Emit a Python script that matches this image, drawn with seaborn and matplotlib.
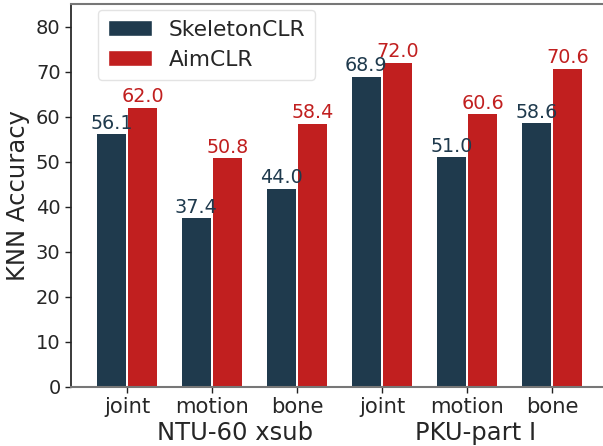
import pandas as pd
import matplotlib.pyplot as plt
import matplotlib.transforms as mtransforms
from matplotlib.patches import Patch
import seaborn as sns

# data
categories = ['joint', 'motion', 'bone', 'joint ', 'motion ', 'bone ']
tick_labels = ['joint', 'motion', 'bone', 'joint', 'motion', 'bone']
skeletonclr = [56.1, 37.4, 44.0, 68.9, 51.0, 58.6]
aimclr = [62.0, 50.8, 58.4, 72.0, 60.6, 70.6]
methods = ['SkeletonCLR', 'AimCLR']
groups = ['NTU-60 xsub', 'PKU-part I']

DARK = '#1f3a4d'
RED = '#c11f1f'

df = pd.DataFrame({
    'cat': categories * 2,
    'acc': skeletonclr + aimclr,
    'method': [methods[0]] * 6 + [methods[1]] * 6,
})

sns.set_theme(style='white')
plt.rcParams['font.family'] = ['DejaVu Sans']

fig = plt.figure(figsize=(6.03, 4.46), dpi=100)
ax = fig.add_axes([71 / 603, 59 / 446, 532 / 603, 383 / 446])

sns.barplot(data=df, x='cat', y='acc', hue='method', order=categories,
            palette={methods[0]: DARK, methods[1]: RED},
            width=0.74, gap=0.08, saturation=1, errorbar=None,
            linewidth=0, legend=False, ax=ax)

# value labels above each bar
for cont, col in zip(ax.containers, [DARK, RED]):
    ax.bar_label(cont, fmt='%.1f', color=col, fontsize=13.8, padding=1)

ax.set_xlim(-0.66, 5.6)
ax.set_ylim(0, 85)
ax.set_yticks(range(0, 81, 10))
ax.set_xticks(range(6))
ax.set_xticklabels(tick_labels, fontsize=15.2)
ax.tick_params(axis='y', labelsize=14)
ax.tick_params(axis='both', length=4, width=1, color='#222222', bottom=True, left=True)
ax.set_xlabel('')
ax.set_ylabel('KNN Accuracy', fontsize=17.5)

for side in ['top', 'bottom']:
    ax.spines[side].set_color('#777777')
    ax.spines[side].set_linewidth(1.5)
ax.spines['left'].set_color('#222222')
ax.spines['right'].set_visible(False)

# dataset names under the tick labels
trans = mtransforms.blended_transform_factory(ax.transData, ax.transAxes)
for xpos, name in zip([1.27, 4.1], groups):
    ax.text(xpos, -0.12, name, transform=trans, ha='center', va='center', fontsize=17.5)

handles = [Patch(facecolor=DARK), Patch(facecolor=RED)]
leg = ax.legend(handles, methods, loc='upper left', bbox_to_anchor=(0.051, 0.984),
                borderaxespad=0, fontsize=15.7, frameon=True, handlelength=2.0,
                handleheight=0.75, handletextpad=0.8, borderpad=0.45, labelspacing=0.45)
leg.get_frame().set_edgecolor('#dddddd')

fig.savefig('out.png', dpi=100)
